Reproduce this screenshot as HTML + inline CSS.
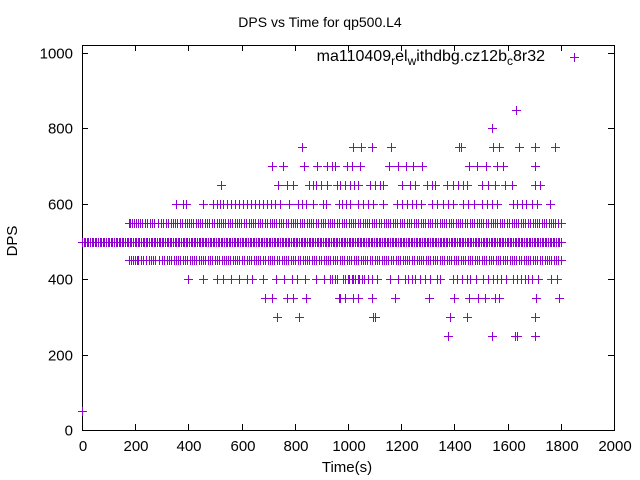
<!DOCTYPE html>
<html><head><meta charset="utf-8"><style>
html,body{margin:0;padding:0;background:#fff;}
svg{display:block;font-family:"Liberation Sans",sans-serif;}
</style></head><body>
<svg id="chart" width="640" height="480" viewBox="0 0 640 480">
<rect x="0" y="0" width="640" height="480" fill="#fff"/>
<text x="320" y="27" text-anchor="middle" font-size="14">DPS vs Time for qp500.L4</text>
<text x="347" y="472" text-anchor="middle" font-size="15">Time(s)</text>
<text transform="translate(17,241) rotate(-90)" text-anchor="middle" font-size="15">DPS</text>
<g id="axes"></g>
<g id="marks" shape-rendering="crispEdges"></g>
<g>
<text x="545" y="61" text-anchor="end" font-size="16">ma110409<tspan font-size="12" dy="4">r</tspan><tspan dy="-4">el</tspan><tspan font-size="12" dy="4">w</tspan><tspan dy="-4">ithdbg.cz12b</tspan><tspan font-size="12" dy="4">c</tspan><tspan dy="-4">8r32</tspan></text>
<path d="M570,57.5h9M574.5,53v9" stroke="#9400d3" stroke-width="1" shape-rendering="crispEdges"/>
</g>
</svg>
<script>
const xTicks=[0,200,400,600,800,1000,1200,1400,1600,1800,2000];
const yTicks=[0,200,400,600,800,1000];
const levels=[50,250,300,350,400,450,500,550,600,650,700,750,800,850];
const t50=[0];
const t250=[1377,1542,1628,1636,1703];
const t300=[733,816,1093,1101,1383,1446,1703];
const t350=[688,714,771,793,842,966,970,989,1020,1039,1089,1177,1306,1398,1456,1490,1515,1552,1569,1707,1794];
const t400=[398,455,508,530,560,590,620,640,680,730,760,790,810,838,880,910,940,960,980,990,1005,1020,1040,1060,932,951,1001,1014,1026,1039,1051,1076,1089,1108,1158,1189,1214,1227,1239,1252,1271,1289,1308,1333,1346,1396,1408,1427,1446,1458,1483,1509,1527,1546,1559,1577,1594,1621,1634,1649,1665,1678,1690,1715,1762,1784];
const t450=[176,183,190,198,205,212,220,230,240,250,258,266,275,290,300,310,318,326,335,344,352,361,370,379,388,396,405,412,420,430,438,446,455,464,472,481,490,499,508,516,525,532,540,549,558,566,575,583,592,601,610,619,628,636,645,653,662,671,680,689,698,706,715,723,732,741,750,759,768,776,785,793,802,811,820,829,838,846,855,863,872,881,890,899,908,916,925,933,942,951,960,969,978,986,995,1003,1012,1021,1030,1039,1048,1056,1065,1073,1082,1091,1100,1109,1118,1126,1135,1143,1152,1161,1170,1179,1188,1196,1205,1213,1222,1231,1240,1249,1258,1266,1275,1283,1292,1301,1310,1319,1328,1336,1345,1353,1362,1371,1380,1389,1398,1406,1415,1423,1432,1441,1450,1459,1468,1476,1485,1493,1502,1511,1520,1529,1538,1546,1555,1563,1572,1581,1590,1599,1608,1616,1625,1633,1642,1651,1660,1669,1678,1686,1695,1703,1712,1721,1730,1739,1748,1756,1765,1773,1782,1791,1800];
const t500=[0,6,12,18,24,30,36,42,48,54,60,66,72,78,84,90,96,102,108,114,120,126,132,138,144,150,156,162,168,174,180,186,192,198,204,210,216,222,228,234,240,246,252,258,264,270,276,282,288,294,300,306,312,318,324,330,336,342,348,354,360,366,372,378,384,390,396,402,408,414,420,426,432,438,444,450,456,462,468,474,480,486,492,498,504,510,516,522,528,534,540,546,552,558,564,570,576,582,588,594,600,606,612,618,624,630,636,642,648,654,660,666,672,678,684,690,696,702,708,714,720,726,732,738,744,750,756,762,768,774,780,786,792,798,804,810,816,822,828,834,840,846,852,858,864,870,876,882,888,894,900,906,912,918,924,930,936,942,948,954,960,966,972,978,984,990,996,1002,1008,1014,1020,1026,1032,1038,1044,1050,1056,1062,1068,1074,1080,1086,1092,1098,1104,1110,1116,1122,1128,1134,1140,1146,1152,1158,1164,1170,1176,1182,1188,1194,1200,1206,1212,1218,1224,1230,1236,1242,1248,1254,1260,1266,1272,1278,1284,1290,1296,1302,1308,1314,1320,1326,1332,1338,1344,1350,1356,1362,1368,1374,1380,1386,1392,1398,1404,1410,1416,1422,1428,1434,1440,1446,1452,1458,1464,1470,1476,1482,1488,1494,1500,1506,1512,1518,1524,1530,1536,1542,1548,1554,1560,1566,1572,1578,1584,1590,1596,1602,1608,1614,1620,1626,1632,1638,1644,1650,1656,1662,1668,1674,1680,1686,1692,1698,1704,1710,1716,1722,1728,1734,1740,1746,1752,1758,1764,1770,1776,1782,1788,1794,1800];
const t550=[175,182,188,196,203,210,218,227,236,246,255,263,272,285,298,306,315,324,333,341,350,359,368,377,386,394,402,410,418,427,436,444,452,461,470,479,488,497,506,514,522,530,538,547,556,565,574,582,590,599,608,617,626,635,644,652,660,669,678,687,696,705,714,722,730,739,748,757,766,775,784,792,800,809,818,827,836,845,854,862,870,879,888,897,906,915,924,932,940,949,958,967,976,985,994,1002,1010,1019,1028,1037,1046,1055,1064,1072,1080,1089,1098,1107,1116,1125,1134,1142,1150,1159,1168,1177,1186,1195,1204,1212,1220,1229,1238,1247,1256,1265,1274,1282,1290,1299,1308,1317,1326,1335,1344,1352,1360,1369,1378,1387,1396,1405,1414,1422,1430,1439,1448,1457,1466,1475,1484,1492,1500,1509,1518,1527,1536,1545,1554,1562,1570,1579,1588,1597,1606,1615,1624,1632,1640,1649,1658,1667,1676,1685,1694,1702,1710,1719,1728,1737,1746,1755,1764,1772,1780,1790,1800];
const t600=[353,379,391,455,492,508,519,530,545,560,575,590,605,620,635,650,665,680,695,710,725,745,778,812,827,842,868,906,917,966,976,992,1007,1039,1058,1076,1095,1133,1183,1202,1223,1239,1255,1273,1314,1333,1358,1377,1396,1431,1452,1473,1502,1521,1540,1559,1621,1634,1653,1671,1690,1712,1759];
const t650=[523,737,771,793,853,868,880,898,921,959,957,970,989,1007,1022,1039,1083,1101,1120,1133,1202,1233,1252,1296,1314,1327,1371,1396,1415,1433,1448,1502,1527,1552,1590,1615,1703,1722];
const t700=[714,756,835,883,921,940,951,938,997,1014,1045,1155,1189,1218,1245,1279,1456,1486,1519,1559,1581,1703];
const t750=[827,1020,1050,1091,1163,1418,1423,1546,1569,1644,1704,1779];
const t800=[1542];
const t850=[1633];
const series=[t50,t250,t300,t350,t400,t450,t500,t550,t600,t650,t700,t750,t800,t850];

const X0=82,X1=614,Y0=430,Y1=45;
const xS=v=>X0+(v/2000)*(X1-X0);
const yS=v=>Y0-(v/1000)*377;
const NS="http://www.w3.org/2000/svg";
const axes=document.getElementById('axes');
const marks=document.getElementById('marks');
function mk(tag,attrs,parent){const e=document.createElementNS(NS,tag);for(const k in attrs)e.setAttribute(k,attrs[k]);parent.appendChild(e);return e;}

const frame=mk('rect',{x:X0+0.5,y:Y1+0.5,width:X1-X0,height:Y0-Y1,fill:'none',stroke:'#000','stroke-width':1,'shape-rendering':'crispEdges'},axes);


xTicks.forEach(v=>{
  const x=Math.round(xS(v))+0.5;
  const tk=mk('path',{d:`M${x},${Y0}v-6M${x},${Y1}v6`,stroke:'#000','stroke-width':1,'shape-rendering':'crispEdges'},axes);
  
  
  const lb=mk('text',{x:x+0.5,y:Y0+21,'text-anchor':'middle','font-size':15},axes);
  lb.textContent=v;
  
  
});
yTicks.forEach(v=>{
  const y=Math.round(yS(v))+0.5;
  const tk=mk('path',{d:`M${X0},${y}h6M${X1},${y}h-6`,stroke:'#000','stroke-width':1,'shape-rendering':'crispEdges'},axes);
  
  
  const lb=mk('text',{x:X0-9,y:y+5,'text-anchor':'end','font-size':15},axes);
  lb.textContent=v;
  
  
});
levels.forEach((lv,i)=>{
  series[i].forEach(t=>{
    const x=Math.round(xS(t))+0.5,y=Math.round(yS(lv))+0.5;
    const p=mk('path',{d:`M${x-4.5},${y}h9M${x},${y-4.5}v9`,stroke:'#9400d3','stroke-width':1},marks);
    
    
  });
});
</script>
</body></html>
